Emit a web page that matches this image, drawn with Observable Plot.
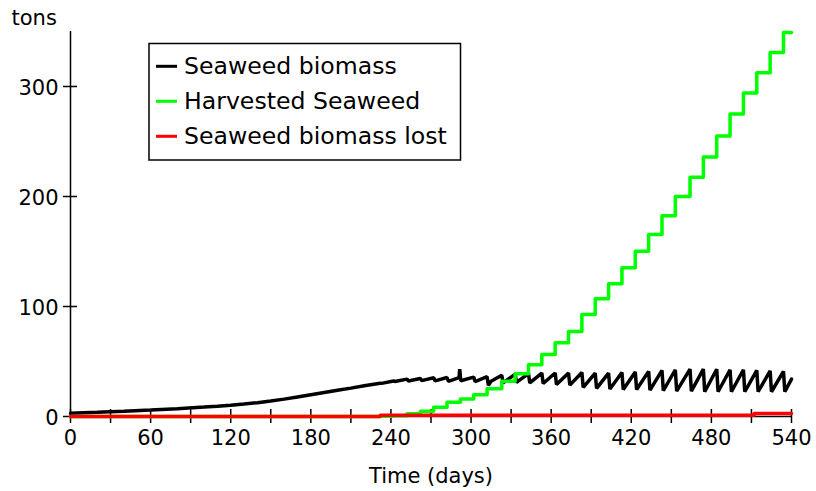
<!DOCTYPE html>
<html>
<head>
<meta charset="utf-8">
<script src="https://cdn.jsdelivr.net/npm/d3@7"></script>
<script src="https://cdn.jsdelivr.net/npm/@observablehq/plot@0.6"></script>
<style>
  body { margin: 0; background: #fff; }
  #chart { width: 816px; height: 491px; }
</style>
</head>
<body>
<div id="chart"></div>
<script>
// ---- data ----
const seriesNames = ["Seaweed biomass", "Harvested Seaweed", "Seaweed biomass lost"];
const seriesColors = ["#000000", "#00ff00", "#ff0000"];

const biomassDays = [0, 20, 40, 60, 80, 100, 110, 120, 130, 140, 150, 160, 170, 180, 190, 200, 210, 220,
  232, 233, 242, 243, 252, 253, 262, 263, 272, 273, 282, 283,
  291, 291.5, 292.3, 302, 303, 312, 313, 315, 323, 324, 333, 334, 343, 344,
  353, 354, 363, 364, 373, 374, 383, 384, 393, 394, 403, 404, 413, 414,
  423, 424, 433, 434, 443, 444, 453, 454, 464, 465, 474, 475, 484, 485,
  494, 495, 504, 505, 514, 515, 524, 525, 534, 535, 540];
const biomassValues = [3.0, 3.8, 4.7, 5.8, 7.1, 8.6, 9.4, 10.3, 11.4, 12.6, 14.1, 15.8, 17.8, 19.8, 21.8, 23.8, 25.8, 27.9,
  30.3, 30.1, 32.3, 31.9, 34.0, 32.3, 34.6, 32.6, 35.2, 32.4, 35.5, 32.0,
  35.3, 43.0, 32.5, 35.8, 31.8, 36.2, 28.5, 32.0, 37.5, 30.5, 38.5, 31.0, 39.0, 30.5,
  39.5, 30.0, 39.5, 29.0, 39.5, 28.5, 40.0, 26.5, 39.5, 25.5, 39.5, 25.0, 40.0, 24.5,
  40.5, 24.5, 41.0, 24.0, 42.0, 23.5, 42.5, 23.0, 43.0, 23.0, 43.0, 22.5, 43.0, 22.5,
  42.5, 22.5, 42.5, 22.5, 42.0, 22.5, 41.5, 22.5, 41.0, 22.5, 34.0];

const harvestDays = [0, 232, 242, 252, 262, 272, 282, 292, 302, 312, 323, 333, 343, 353,
  363, 373, 383, 393, 403, 413, 423, 433, 443, 453, 464, 474, 484, 494, 504, 514, 524, 534, 540];
const harvestValues = [0, 0.2, 0.6, 2.4, 4.8, 8.5, 13, 16, 19.7, 25.2, 32.1, 38.8, 47, 56.4,
  67, 77.3, 92.7, 107, 120.6, 135.2, 150.3, 165.5, 182.5, 200, 217.5, 236, 255, 275, 294, 312.5, 331, 349, 349];

const lostDays = [0, 232, 512, 540];
const lostValues = [0, 1.2, 2.8, 2.8];

const xTicks = [0, 30, 60, 90, 120, 150, 180, 210, 240, 270, 300, 330, 360, 390, 420, 450, 480, 510, 540];
const xTickLabels = [0, 60, 120, 180, 240, 300, 360, 420, 480, 540];
const yTicks = [0, 100, 200, 300];
const yLabel = "tons";
const xLabel = "Time (days)";

// ---- tables built from the arrays ----
const biomass = biomassDays.map((d, i) => ({day: d, value: biomassValues[i]}));
const harvested = harvestDays.map((d, i) => ({day: d, value: harvestValues[i]}));
const lost = lostDays.map((d, i) => ({day: d, value: lostValues[i]}));

const font = "'DejaVu Sans', Verdana, sans-serif";

const plot = Plot.plot({
  width: 816,
  height: 491,
  marginLeft: 70,
  marginRight: 25,
  marginTop: 31,
  marginBottom: 75,
  x: {domain: [0, 540], axis: null},
  y: {domain: [0, 350], axis: null},
  style: {fontFamily: font, fontSize: "21px", color: "black", background: "white", overflow: "visible"},
  marks: [
    Plot.ruleX([0], {stroke: "black", strokeWidth: 1.5}),
    Plot.ruleY([0], {stroke: "black", strokeWidth: 1.5}),
    Plot.axisX({ticks: xTicks, tickSize: 14, dy: -7, fill: "none", label: null, stroke: "black", strokeWidth: 1.5}),
    Plot.axisY({ticks: yTicks, tickSize: 14, dx: 7, fill: "none", label: null, stroke: "black", strokeWidth: 1.5}),
    Plot.text(xTickLabels, {x: d => d, frameAnchor: "bottom", dy: 22, lineAnchor: "middle", text: d => String(d), fill: "black", fontSize: 21}),
    Plot.text(yTicks, {y: d => d, frameAnchor: "left", dx: -12, dy: 2, textAnchor: "end", lineAnchor: "middle", text: d => String(d), fill: "black", fontSize: 21}),
    Plot.text([yLabel], {frameAnchor: "top-left", dx: -59, dy: -13, textAnchor: "start", lineAnchor: "middle", text: d => d, fill: "black", fontSize: 21}),
    Plot.text([xLabel], {frameAnchor: "bottom", dy: 60, lineAnchor: "middle", text: d => d, fill: "black", fontSize: 21}),
    Plot.line(biomass, {x: "day", y: "value", stroke: seriesColors[0], strokeWidth: 3.5, strokeLinejoin: "miter"}),
    Plot.line(harvested, {x: "day", y: "value", curve: "step-after", stroke: seriesColors[1], strokeWidth: 3.5}),
    Plot.line(lost, {x: "day", y: "value", curve: "step-after", stroke: seriesColors[2], strokeWidth: 3.5})
  ]
});

// legend box drawn inside the svg
const svg = d3.select(plot);
const lg = svg.append("g").attr("class", "legend").attr("text-anchor", "start");
lg.append("rect").attr("x", 149).attr("y", 43.5).attr("width", 311.5).attr("height", 116.5)
  .attr("fill", "white").attr("stroke", "black").attr("stroke-width", 1.5);
seriesNames.forEach((name, i) => {
  const cy = 66.3 + 35 * i;
  lg.append("line").attr("x1", 156).attr("x2", 177).attr("y1", cy).attr("y2", cy)
    .attr("stroke", seriesColors[i]).attr("stroke-width", 3);
  lg.append("text").attr("x", 184).attr("y", 74.3 + 35 * i).text(name)
    .attr("text-anchor", "start")
    .attr("font-size", 23.6).attr("font-family", font).attr("fill", "black");
});

document.getElementById("chart").appendChild(plot);
</script>
</body>
</html>
